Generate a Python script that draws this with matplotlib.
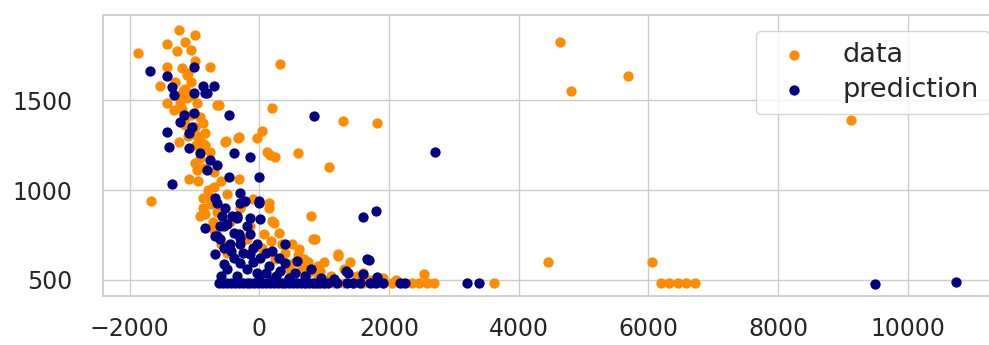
import matplotlib
matplotlib.use("Agg")
import matplotlib.pyplot as plt
import seaborn as sns

sns.set_theme(style="whitegrid")
plt.rcParams['font.family'] = ['DejaVu Sans']

# ---- data (orange) ----
data_x = [4640, 4810, 5690, 9120, 4445, 6060, 6190, 6320, 6450, 6580, 6720, 3615, 2685, 2530, 2460, 2580,
          -1880, -1234, -988, -1420, -1142, -1265, -1420, -1188, -771, -1527, -648, 309, 200, 1290, 1810,
          46, -40, -324, -524, 110, 600, 160, 247, 1065, 800, 154, 200, 818, 1204, -1680,
          -1420, -1312, -1219, -1111, -957, -910, -879, -848, -910, -833, -1234, -1100, -1050, -1150, -1000,
          -1060, -1300, -617, -525, -309, -1234, -1080, -957, -756, -879, -879, -910, -694, -494, -309, -833,
          -1000, -950, -800, -1150, -1000, -1100, -700, -600, -750, -650, -700, -600, -500, -450,
          -1200, -1150, -1050, -980, -920, -860, -1180, -1120, -1020, -960, -780, -720,
          154, 231, 77, 170, 46, 509, 617, 849, 694, 895, 1204, 941, 478, 247, 741, -293, -139, -185,
          -250, -100, 300, 400, 550, 650, 1000, 1100, 1300, 1500, 1700, 1900, 2100,
          350, 450, 600, 750, 900, 1150, 1400, 1600,
          700, 850, 1000, 1150, 1300, 1450, 1600, 1750, 1900, 2050, 2200, 2350]
data_y = [1823, 1553, 1633, 1388, 598, 598, 480, 480, 480, 480, 480, 480, 480, 532, 480, 480,
          1760, 1891, 1863, 1813, 1824, 1774, 1684, 1679, 1684, 1578, 1472, 1703, 1458, 1385, 1372,
          1330, 1290, 1288, 1271, 1212, 1205, 1193, 1182, 1128, 858, 930, 830, 729, 634, 938,
          1483, 1444, 1483, 1511, 1483, 1405, 1372, 1316, 1277, 1249, 1517, 1650, 1600, 1560, 1720,
          1780, 1600, 1472, 1265, 1293, 1265, 1064, 1109, 1210, 958, 902, 858, 1014, 980, 1064, 869,
          1150, 1050, 1000, 1400, 1350, 1300, 1100, 1050, 920, 880, 780, 700, 650, 820,
          1450, 1360, 1420, 1250, 1180, 1120, 1550, 1640, 1530, 1300, 960, 820,
          902, 818, 757, 718, 679, 701, 673, 729, 617, 578, 645, 550, 589, 617, 539, 902, 802, 729,
          930, 950, 760, 650, 600, 560, 600, 520, 560, 520, 500, 510, 500,
          700, 560, 640, 600, 520, 500, 600, 540,
          480, 480, 480, 480, 480, 480, 480, 480, 480, 480, 480, 480]

# ---- prediction (navy) ----
pred_x = [2710, 840, 1590, 1790, 9500, 10750, 3195, 3380, 2175, 2237, 1682, 1820, 1590, 1358, 1327, 1157, 1666,
          -1682, -1420, -1003, -1342, -1312, -879, -694, -833, -1003, -1219, -1003, -1034, -1420, -1080,
          -1389, -1080, -802, -1157, -463, -910, -756, -648, -386, -802, -463, -1342, -293, -679, -231,
          -525, -417, -340, -833, -540, -648, -293, -154, -15, -15,
          -648, -293, 0, -571, -340, -139, 15, -602, -494, -679, -309, -139, -602, -293, -31, -679, -447,
          -154, 15, 200, 386, -540, -293, 154, 401, 586, 324, -31, 555,
          -500, -400, -200, -100, 100, 250, 450, 700, -600, -350, 0, 200, 800, 950, -450, -250, -100,
          100, 300, -550, -400, -200,
          -620, -560, -500, -440, -380, -320, -260, -200, -140, -80, -20, 40, 100, 160, 220, 280, 340,
          400, 460, 520, 580, 640, 700, 760, 820, 880, 940, 1000, 1050, 1200, 1350, 1450, 1550, 1700,
          1800, 1900]
pred_y = [1210, 1414, 852, 885, 478, 490, 480, 480, 480, 483, 612, 517, 533, 539, 550, 506, 617,
          1660, 1634, 1684, 1573, 1528, 1578, 1578, 1539, 1539, 1377, 1427, 1349, 1321, 1316,
          1237, 1232, 1539, 1416, 1416, 1204, 1165, 1137, 1204, 1109, 1070, 1036, 986, 953, 941,
          902, 858, 846, 790, 802, 746, 735, 1182, 1070, 941,
          930, 930, 930, 858, 858, 846, 841, 802, 813, 746, 757, 757, 729, 701, 701, 645, 662,
          645, 623, 662, 701, 589, 595, 578, 595, 606, 550, 539, 539,
          560, 620, 560, 600, 540, 520, 510, 520, 520, 520, 500, 500, 560, 510, 700, 650, 680,
          650, 620, 680, 760, 800,
          480, 480, 480, 480, 480, 480, 480, 480, 480, 480, 480, 480, 480, 480, 480, 480, 480,
          480, 480, 480, 480, 480, 480, 480, 480, 480, 480, 480, 480, 480, 480, 480, 480, 480,
          480, 480]

x_ticks = [-2000, 0, 2000, 4000, 6000, 8000, 10000]
y_ticks = [500, 1000, 1500]

fig = plt.figure(figsize=(9.89, 3.45), dpi=100)
ax = fig.add_axes([0.104, 0.142, 0.913, 0.815])

ax.scatter(data_x, data_y, s=55, color="darkorange", linewidths=0, label="data")
ax.scatter(pred_x, pred_y, s=55, color="navy", linewidths=0, label="prediction")

ax.set_xlim(-2416, 11512)
ax.set_ylim(410, 1975)
ax.set_xticks(x_ticks)
ax.set_yticks(y_ticks)
ax.tick_params(axis='both', labelsize=17, colors='0.15')
ax.tick_params(axis='y', pad=16)
ax.tick_params(axis='x', pad=9)
for sp in ax.spines.values():
    sp.set_color('0.8')

leg = ax.legend(loc="upper right", fontsize=19.5, frameon=True, borderaxespad=0.6,
                labelspacing=0.35)
leg.get_frame().set_edgecolor('0.8')
for t in leg.get_texts():
    t.set_color('0.15')

fig.savefig("out.png", dpi=100)
